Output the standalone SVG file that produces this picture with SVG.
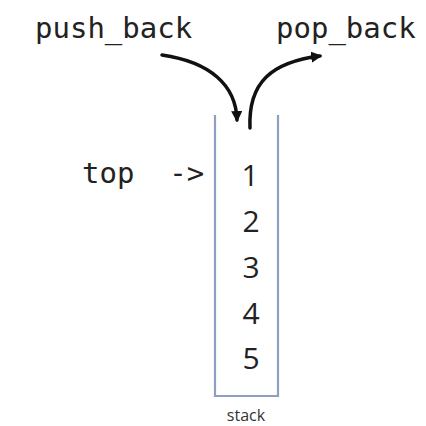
<svg xmlns="http://www.w3.org/2000/svg" width="426" height="426" viewBox="0 0 426 426">
<style>
.mono{font-family:"DejaVu Sans Mono","Liberation Mono",monospace;font-size:29px;fill:#222}
.num{font-family:"Open Sans","Liberation Sans",sans-serif;font-size:30px;fill:#222;text-anchor:middle}
.lbl{font-family:"Open Sans","Liberation Sans",sans-serif;font-size:16px;fill:#333;text-anchor:middle}
.arr{fill:none;stroke:#111;stroke-width:3.5;stroke-linecap:round}
</style>
<defs>
<marker id="ah" viewBox="0 0 10 10" refX="8" refY="5" markerWidth="3.2" markerHeight="3.2" orient="auto" markerUnits="strokeWidth">
<path d="M0,0 L10,5 L0,10 z" fill="#111"/>
</marker>
</defs>
<rect width="426" height="426" fill="#fff"/>
<g id="push_back"><text class="mono" x="35" y="38">push_back</text></g>
<g id="pop_back"><text class="mono" x="276" y="38">pop_back</text></g>
<g id="top"><text class="mono" x="82" y="183" xml:space="preserve">top  -&gt;</text></g>
<g id="stack">
<path d="M215,115 V396 H278 V115" fill="none" stroke="#8e9fc6" stroke-width="2.2"/>
<text class="num" x="250" y="186">1</text>
<text class="num" x="251" y="232">2</text>
<text class="num" x="251" y="278">3</text>
<text class="num" x="251" y="324">4</text>
<text class="num" x="251" y="369">5</text>
<text class="lbl" x="246" y="421">stack</text>
</g>
<g id="connectors">
<path class="arr" d="M162,55 C210,62 236,85 237,120" marker-end="url(#ah)"/>
<path class="arr" d="M250,128 C248,82 272,62 320,56" marker-end="url(#ah)"/>
</g>
</svg>
